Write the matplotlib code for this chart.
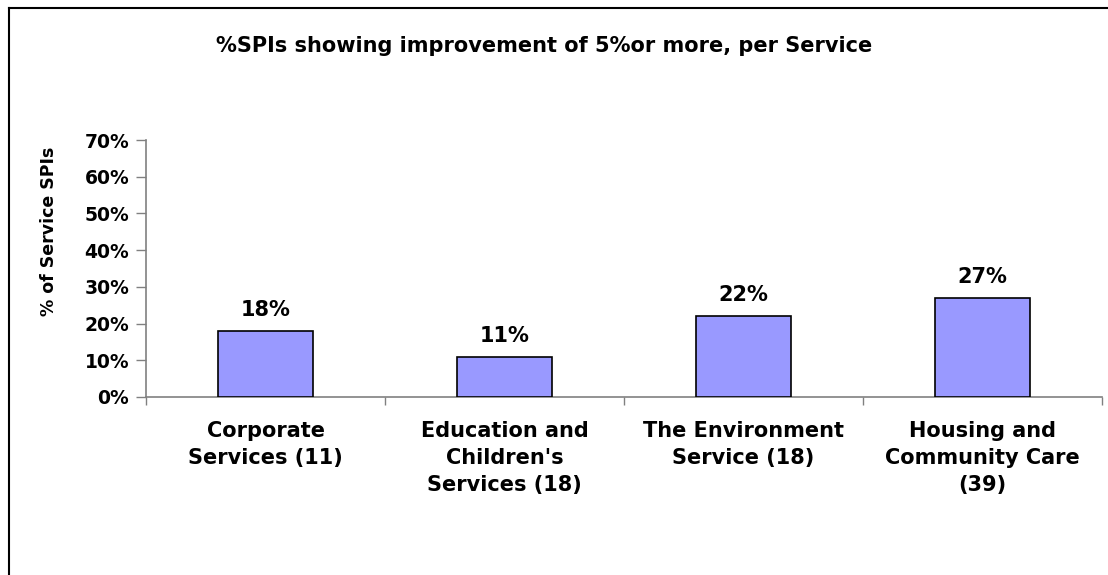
import matplotlib
matplotlib.use("Agg")
import matplotlib.pyplot as plt
from matplotlib.lines import Line2D

categories = [
    "Corporate\nServices (11)",
    "Education and\nChildren's\nServices (18)",
    "The Environment\nService (18)",
    "Housing and\nCommunity Care\n(39)",
]
values = [0.18, 0.11, 0.22, 0.27]
value_labels = ["18%", "11%", "22%", "27%"]
y_ticks = [0.0, 0.1, 0.2, 0.3, 0.4, 0.5, 0.6, 0.7]
y_tick_labels = ["0%", "10%", "20%", "30%", "40%", "50%", "60%", "70%"]

plt.rcParams["font.family"] = ["DejaVu Sans"]
plt.rcParams["font.weight"] = "bold"

fig = plt.figure(figsize=(11.08, 5.75), dpi=100)
ax = fig.add_axes([146 / 1108, 1 - 397 / 575, (1102 - 146) / 1108, (397 - 140) / 575])

# outer chart border (left and top visible)
fig.add_artist(Line2D([8.5 / 1108, 8.5 / 1108], [0, 1 - 7.5 / 575], color="black", lw=1.5))
fig.add_artist(Line2D([8.5 / 1108, 1], [1 - 7.5 / 575, 1 - 7.5 / 575], color="black", lw=1.5))

x = list(range(len(categories)))
ax.bar(x, values, width=0.4, color="#9999FF", edgecolor="black", linewidth=1.2, zorder=3)
for xi, v, lab in zip(x, values, value_labels):
    ax.annotate(lab, (xi, v), xytext=(0, 8), textcoords="offset points",
                ha="center", va="bottom", fontsize=15, fontweight="bold")

ax.set_xlim(-0.5, len(categories) - 0.5)
ax.set_ylim(0, 0.7)
ax.set_yticks(y_ticks)
ax.set_yticklabels(y_tick_labels, fontsize=13.5, fontweight="bold")
ax.set_xticks(x)
ax.set_xticklabels(categories, fontsize=15, fontweight="bold", linespacing=1.45)
ax.tick_params(axis="x", length=0, pad=17)
ax.set_xticks([i + 0.5 for i in range(-1, len(categories))], minor=True)
ax.tick_params(axis="x", which="minor", length=6, color="#808080", width=1)
ax.tick_params(axis="y", length=7, color="#808080", width=1, pad=5)

for side in ["top", "right"]:
    ax.spines[side].set_visible(False)
for side in ["left", "bottom"]:
    ax.spines[side].set_color("#808080")
    ax.spines[side].set_linewidth(1.2)

ax.set_ylabel("% of Service SPIs", fontsize=12.5, fontweight="bold")
ax.yaxis.set_label_coords((58 - 146) / 956, (397 - 231) / 257)
fig.text(0.491, 1 - 46 / 575, "%SPIs showing improvement of 5%or more, per Service",
         ha="center", va="center", fontsize=15, fontweight="bold")

plt.savefig("out.png", dpi=100)
plt.close()
